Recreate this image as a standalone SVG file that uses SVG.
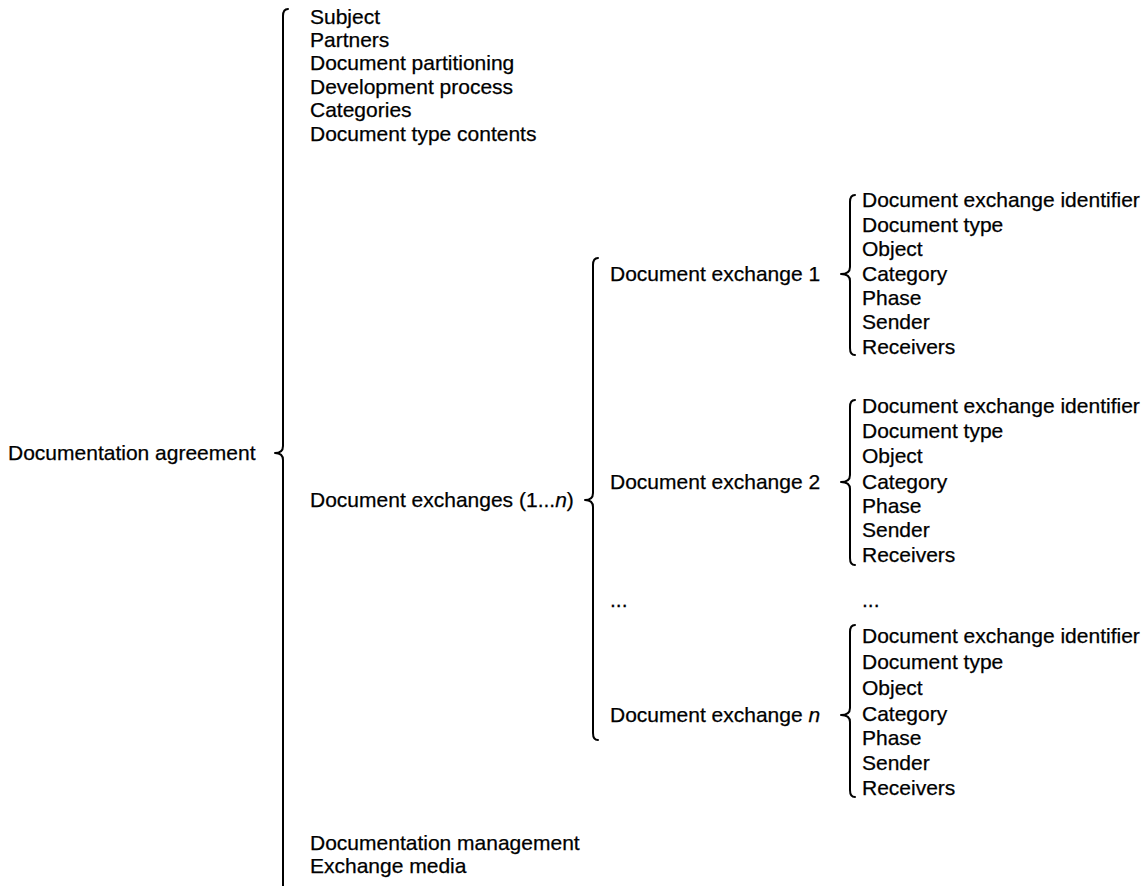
<svg xmlns="http://www.w3.org/2000/svg" width="1144" height="886" viewBox="0 0 1144 886">
<style>
text{font-family:"Liberation Sans",Arial,Helvetica,sans-serif;font-size:21px;fill:#000;stroke:#000;stroke-width:0.25}
.br{fill:none;stroke:#000;stroke-width:2;stroke-linecap:round;stroke-linejoin:round}
</style>
<rect width="1144" height="886" fill="#fff"/>
<g id="connectors">
<path class="br" d="M288,9 Q283,9 283,16 L283,446 Q283,453 275,453 Q283,453 283,460 L283,886"/>
<path class="br" d="M598,258 Q593,258 593,265 L593,493 Q593,500 585,500 Q593,500 593,507 L593,733 Q593,740 598,740"/>
<path class="br" d="M855,195 Q850,195 850,202 L850,267 Q850,274 841,274 Q850,274 850,281 L850,348 Q850,355 855,355"/>
<path class="br" d="M855,400 Q850,400 850,407 L850,475 Q850,482 841,482 Q850,482 850,489 L850,558 Q850,565 855,565"/>
<path class="br" d="M855,625 Q850,625 850,632 L850,708 Q850,715 841,715 Q850,715 850,722 L850,790 Q850,797 855,797"/>
</g>
<g id="root"><text x="8" y="460">Documentation agreement</text></g>
<g id="general">
<text x="310" y="24">Subject</text>
<text x="310" y="47">Partners</text>
<text x="310" y="70">Document partitioning</text>
<text x="310" y="94">Development process</text>
<text x="310" y="117">Categories</text>
<text x="310" y="141">Document type contents</text>
</g>
<g id="exchanges"><text x="310" y="507">Document exchanges (1...<tspan font-style="italic">n</tspan>)</text></g>
<g id="exchange1">
<text x="610" y="281">Document exchange 1</text>
</g>
<g id="exchange1-items">
<text x="862" y="207">Document exchange identifier</text>
<text x="862" y="232">Document type</text>
<text x="862" y="256">Object</text>
<text x="862" y="281">Category</text>
<text x="862" y="305">Phase</text>
<text x="862" y="329">Sender</text>
<text x="862" y="354">Receivers</text>
</g>
<g id="exchange2">
<text x="610" y="489">Document exchange 2</text>
</g>
<g id="exchange2-items">
<text x="862" y="413">Document exchange identifier</text>
<text x="862" y="438">Document type</text>
<text x="862" y="463">Object</text>
<text x="862" y="489">Category</text>
<text x="862" y="513">Phase</text>
<text x="862" y="537">Sender</text>
<text x="862" y="562">Receivers</text>
</g>
<g id="ellipsis">
<text x="610" y="607">...</text>
<text x="862" y="607">...</text>
</g>
<g id="exchangeN">
<text x="610" y="722">Document exchange <tspan font-style="italic">n</tspan></text>
</g>
<g id="exchangeN-items">
<text x="862" y="643">Document exchange identifier</text>
<text x="862" y="669">Document type</text>
<text x="862" y="695">Object</text>
<text x="862" y="721">Category</text>
<text x="862" y="745">Phase</text>
<text x="862" y="770">Sender</text>
<text x="862" y="795">Receivers</text>
</g>
<g id="management">
<text x="310" y="850">Documentation management</text>
<text x="310" y="873">Exchange media</text>
</g>
</svg>
